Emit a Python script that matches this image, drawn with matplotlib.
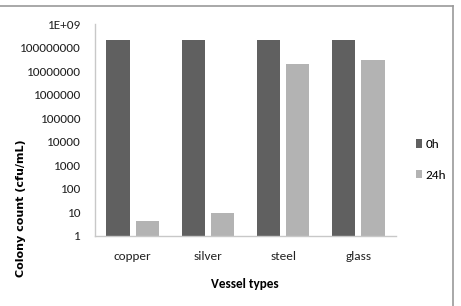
import numpy as np
import matplotlib
matplotlib.use('Agg')
import matplotlib.pyplot as plt
from matplotlib.lines import Line2D

plt.rcParams['font.family'] = ['Carlito', 'DejaVu Sans']

# data
vessels = ['copper', 'silver', 'steel', 'glass']
count_0h = [2e8, 2e8, 2e8, 2e8]
count_24h = [4.5, 9.5, 2.1e7, 2.9e7]
series_names = ['0h', '24h']
ytick_values = [1, 10, 100, 1000, 10000, 100000, 1000000, 10000000, 100000000, 1e9]
ytick_labels = ['1', '10', '100', '1000', '10000', '100000', '1000000',
                '10000000', '100000000', '1E+09']

W, H = 461, 306
fig = plt.figure(figsize=(W / 100, H / 100), dpi=100)

# axes placed in pixel terms of the reference
x0, x1, ytop, ybot = 95, 396, 24, 236
ax = fig.add_axes([x0 / W, 1 - ybot / H, (x1 - x0) / W, (ybot - ytop) / H])

x = np.arange(len(vessels))
w = 0.31
b0 = ax.bar(x - 0.195, count_0h, width=w, color='#606060', label=series_names[0])
b1 = ax.bar(x + 0.195, count_24h, width=w, color='#b3b3b3', label=series_names[1])

ax.set_yscale('log')
ax.set_ylim(1, 1e9)
ax.set_xlim(-0.5, len(vessels) - 0.5)
ax.set_yticks(ytick_values)
ax.set_yticklabels(ytick_labels)
ax.minorticks_off()
ax.set_xticks(x)
ax.set_xticklabels(vessels)
ax.tick_params(axis='both', length=0, labelsize=9.5, colors='#222222')
ax.tick_params(axis='x', pad=11)
ax.tick_params(axis='y', pad=10)

for s in ['top', 'right']:
    ax.spines[s].set_visible(False)
for s in ['left', 'bottom']:
    ax.spines[s].set_color('#c8c8c8')
    ax.spines[s].set_linewidth(1)

fig.text(245 / W, 1 - 284 / H, 'Vessel types', ha='center', va='center',
         fontsize=9.5, fontweight='bold')
fig.text(21 / W, 1 - 208 / H, 'Colony count (cfu/mL)', ha='center', va='center',
         rotation=90, fontsize=8, fontweight='bold', family=['DejaVu Sans'])

ax.legend(handles=[b0, b1], loc='center left',
          bbox_to_anchor=(404 / W, 1 - 160 / H), bbox_transform=fig.transFigure,
          frameon=False, fontsize=9.5, handlelength=0.45, handleheight=0.6,
          handletextpad=0.3, labelspacing=1.5)

# outer frame lines (top and right only)
fig.add_artist(Line2D([0, 453 / W], [1 - 6 / H, 1 - 6 / H], color='#9a9a9a', lw=1.2,
                      transform=fig.transFigure))
fig.add_artist(Line2D([453 / W, 453 / W], [0, 1 - 6 / H], color='#9a9a9a', lw=1.2,
                      transform=fig.transFigure))

fig.savefig('out.png', dpi=100)
